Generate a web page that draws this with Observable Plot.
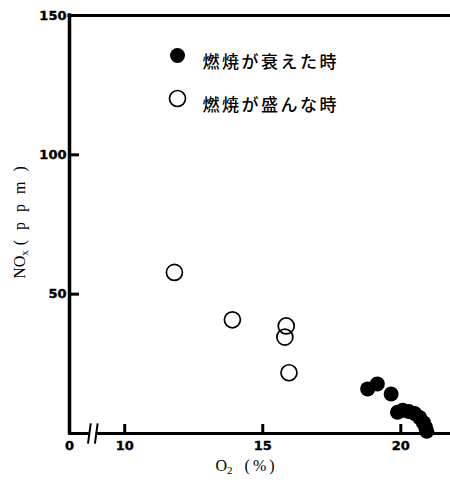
<!DOCTYPE html>
<html><head><meta charset="utf-8">
<script src="https://cdn.jsdelivr.net/npm/d3@7"></script>
<script src="https://cdn.jsdelivr.net/npm/@observablehq/plot@0.6"></script>
<style>body{margin:0;background:#fff}</style>
</head><body><div id="chart"></div>
<script>
// 燃焼が盛んな時 (open circles)
const openO2  = [11.8, 13.9, 15.85, 15.8, 15.95];
const openNOx = [57.8, 40.8, 38.6, 34.6, 21.8];
// 燃焼が衰えた時 (filled circles)
const filledO2  = [18.8, 19.15, 19.65, 19.88, 20.07, 20.29, 20.5, 20.68, 20.82, 20.9, 20.94];
const filledNOx = [16.0, 17.8, 14.2, 7.6, 8.3, 7.9, 7.2, 5.7, 3.9, 2.2, 0.8];
const legendLabels = ["燃焼が衰えた時", "燃焼が盛んな時"];
const xTicks = [10, 15, 20];
const yTicks = [50, 100];
const yTickLabels = [50, 100, 150];
const xAxisStart = 8;     // broken axis: left end is labelled "0"
const xAxisEnd = 21.8;
const yMax = 150;
const breakMarks = [8.72, 8.97];
const xLabel = "O2 (%)";
const yLabel = "NOx (ppm)";

const openData = openO2.map((x, i) => ({o2: x, nox: openNOx[i]}));
const filledData = filledO2.map((x, i) => ({o2: x, nox: filledNOx[i]}));
const bottomAxis = [{y: 0, x1: xAxisStart, x2: breakMarks[0]}, {y: 0, x1: breakMarks[1], x2: xAxisEnd}];
const xLabelTicks = [xAxisStart, ...xTicks];

const jpFont = {fontSize: 17, fontFamily: "Noto Sans CJK JP", fontWeight: 500};
const tickFont = {fontSize: 13, fontFamily: "DejaVu Sans", fontWeight: "bold", fill: "black", stroke: "black", strokeWidth: 0.4};

const svg = Plot.plot({
  width: 450, height: 483,
  marginLeft: 69, marginRight: 0, marginTop: 15, marginBottom: 50,
  x: {domain: [xAxisStart, xAxisEnd], label: null},
  y: {domain: [0, yMax], label: null},
  style: {background: "white", color: "black"},
  marks: [
    Plot.ruleY([yMax], {strokeWidth: 3, strokeLinecap: "square"}),
    Plot.ruleX([xAxisStart], {strokeWidth: 3.5, strokeLinecap: "square"}),
    Plot.ruleY(bottomAxis, {y: "y", x1: "x1", x2: "x2", strokeWidth: 3}),
    Plot.link(breakMarks, {x1: d => d - 0.05, x2: d => d + 0.05, y1: () => -3.6, y2: () => 3.6, strokeWidth: 2}),
    Plot.axisY(yTicks, {anchor: "left", tickSize: -10, strokeWidth: 3, tickFormat: () => "", label: null}),
    Plot.axisX(xTicks, {anchor: "bottom", tickSize: -9, strokeWidth: 3, tickFormat: () => "", label: null}),
    Plot.text(yTickLabels, {x: () => xAxisStart, y: d => d, text: d => String(d), textAnchor: "end", dx: -3, ...tickFont}),
    Plot.text(xLabelTicks, {x: d => d, y: () => 0, text: d => d === xAxisStart ? "0" : String(d),
      lineAnchor: "top", dy: 7, ...tickFont}),
    Plot.dot(openData, {x: "o2", y: "nox", r: 8, stroke: "black", strokeWidth: 1.7, fill: "none"}),
    Plot.dot(filledData, {x: "o2", y: "nox", r: 7.5, fill: "black"}),
    // legend
    Plot.dot([legendLabels[0]], {x: null, y: null, frameAnchor: "top-left", dx: 108, dy: 40, r: 7.5, fill: "black"}),
    Plot.dot([legendLabels[1]], {x: null, y: null, frameAnchor: "top-left", dx: 108, dy: 83, r: 8, stroke: "black", strokeWidth: 1.7, fill: "none"}),
    Plot.text([legendLabels[0]], {x: null, y: null, text: d => d, frameAnchor: "top-left", dx: 133, dy: 40, textAnchor: "start", ...jpFont}),
    Plot.text([legendLabels[1]], {x: null, y: null, text: d => d, frameAnchor: "top-left", dx: 133, dy: 83, textAnchor: "start", ...jpFont}),
    // axis titles
    Plot.text([yLabel], {x: null, y: null, text: d => d, frameAnchor: "left", dx: -50, dy: -7, rotate: -90,
      textAnchor: "middle", fontSize: 16, fontFamily: "Liberation Serif"}),
    Plot.text([xLabel], {x: null, y: null, text: d => d, frameAnchor: "bottom-left", dx: 146, dy: 37, textAnchor: "start",
      fontSize: 16, fontFamily: "Liberation Serif"})
  ]
});

const s = d3.select(svg);
s.selectAll("text").filter(function() { return legendLabels.includes(this.textContent); })
  .attr("letter-spacing", "2.5px");
s.selectAll("text").filter(function() { return this.textContent === yLabel; }).each(function() {
  const t = d3.select(this); t.text(null);
  t.append("tspan").text("NO");
  t.append("tspan").attr("font-size", 11).attr("dy", 3).text("x");
  t.append("tspan").attr("dy", -3).attr("dx", 5).attr("letter-spacing", "10px").text("(ppm)");
});
s.selectAll("text").filter(function() { return this.textContent === xLabel; }).each(function() {
  const t = d3.select(this); t.text(null);
  t.append("tspan").text("O");
  t.append("tspan").attr("font-size", 11).attr("dy", 3).text("2");
  t.append("tspan").attr("dy", -3).attr("dx", 12).attr("letter-spacing", "3px").text("(%)");
});
document.getElementById("chart").appendChild(svg);
</script></body></html>
